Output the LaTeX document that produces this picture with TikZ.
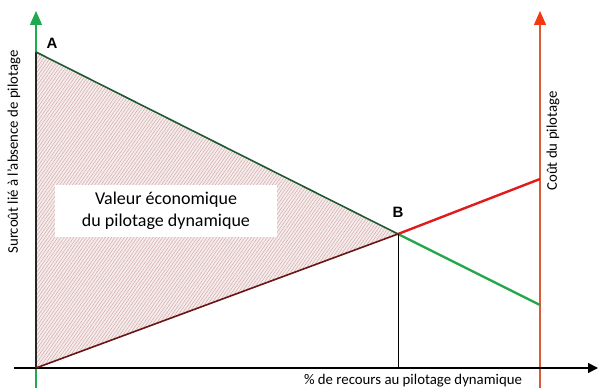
\documentclass[tikz,border=0pt]{standalone}
\usepackage{fontspec}
\setmainfont{Carlito}
\newfontfamily\lblfont{Liberation Sans}
\usetikzlibrary{patterns.meta,arrows.meta}
\definecolor{axgreen}{HTML}{1FAA4F}
\definecolor{lngreen}{HTML}{24A64A}
\definecolor{lnred}{HTML}{E01B1B}
\definecolor{axred}{HTML}{DC5A35}
\definecolor{tipred}{HTML}{F23A0E}
\definecolor{edgegreen}{HTML}{1E5A30}
\definecolor{edgered}{HTML}{6A1414}
\definecolor{hatchbg}{HTML}{F6ECEC}
\definecolor{hatchln}{HTML}{D2AAAA}
\tikzset{
  axisline/.style={line width=1.4pt},
  curve/.style={line width=2.4pt},
  axlabel/.style={font=\fontsize{14.8}{17}\selectfont, inner sep=0pt},
  ptlabel/.style={font=\lblfont\bfseries\fontsize{15}{17}\selectfont, inner sep=0pt},
}
\begin{document}
\begin{tikzpicture}[x=1pt,y=1pt]
\useasboundingbox (0,0) rectangle (598,388);
% key points
\coordinate (O) at (36,20);
\coordinate (A) at (36,336);
\coordinate (B) at (398,154);
\coordinate (G) at (540,83);
\coordinate (R) at (540,209);
\coordinate (Lb) at (36,0);
\coordinate (Lt) at (36,377);
\coordinate (Rb) at (540,0);
\coordinate (Rt) at (540,377);
\coordinate (Xl) at (14,20);
\coordinate (Xr) at (598,20);
\coordinate (Bx) at (398,20);
% hatched triangle
\fill[hatchbg] (O) -- (A) -- (B) -- cycle;
\fill[pattern={Lines[angle=55,distance=2.6pt,line width=0.5pt]},pattern color=hatchln] (O) -- (A) -- (B) -- cycle;
% text box
\node[fill=white, minimum width=222pt, minimum height=52pt, inner sep=0pt,
      align=center, font=\fontsize{18}{22}\selectfont] (val) at (166,177)
      {Valeur économique\\du pilotage dynamique};
% axes
\draw[axisline, axgreen, -{Triangle[length=14pt,width=12pt]}] (Lb) -- (Lt);
\draw[axisline, axred, -{Triangle[length=14pt,width=12pt,fill=tipred,color=tipred]}] (Rb) -- (Rt);
\draw[axisline, black, -{Triangle[length=10pt,width=10pt]}] (Xl) -- (Xr);
% triangle edges
\draw[line width=1.2pt, black!85] (O) -- (A);
\draw[line width=1.6pt, edgegreen] (A) -- (B);
\draw[line width=1.6pt, edgered] (O) -- (B);
% continuations
\draw[curve, lngreen] (B) -- (G);
\draw[curve, lnred] (B) -- (R);
\draw[line width=1pt, black] (B) -- (Bx);
% labels
\node[ptlabel] (la) at (52,345) {A};
\node[ptlabel] (lb) at (398,176) {B};
\node[axlabel, rotate=90] (ly) at (14,236) {Surcoût lié à l'absence de pilotage};
\node[axlabel] (lx) at (413,7) {\% de recours au pilotage dynamique};
\node[axlabel, rotate=90] (lr) at (553,247) {Coût du pilotage};
\end{tikzpicture}
\end{document}
